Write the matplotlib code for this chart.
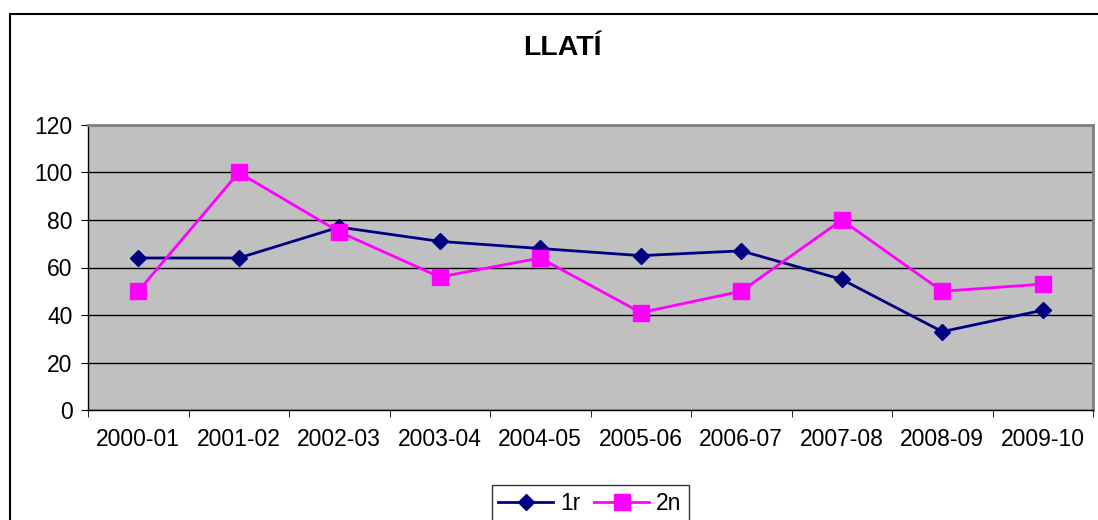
import matplotlib.pyplot as plt
from matplotlib.patches import Rectangle
import numpy as np

plt.rcParams['font.family'] = ['Liberation Sans', 'DejaVu Sans']

seasons = ['2000-01', '2001-02', '2002-03', '2003-04', '2004-05',
           '2005-06', '2006-07', '2007-08', '2008-09', '2009-10']
first = [64, 64, 77, 71, 68, 65, 67, 55, 33, 42]
second = [50, 100, 75, 56, 64, 41, 50, 80, 50, 53]

fig = plt.figure(figsize=(10.98, 5.20), dpi=100)
ax = fig.add_axes([88 / 1098, 1 - 410 / 520, 1005 / 1098, 285 / 520])
ax.set_facecolor('#C0C0C0')

x = np.arange(len(seasons))
ax.plot(x, first, color='#000080', lw=2, marker='D', ms=8, label='1r', zorder=3)
ax.plot(x, second, color='#FF00FF', lw=2, marker='s', ms=11, label='2n', zorder=4)

ax.set_ylim(0, 120)
ax.set_yticks(range(0, 121, 20))
ax.set_xlim(-0.5, len(seasons) - 0.5)
ax.set_xticks(x)
ax.set_xticklabels(seasons)
ax.set_xticks(np.arange(-0.5, len(seasons), 1), minor=True)
ax.tick_params(axis='x', which='major', length=0, pad=13, labelsize=16.5)
ax.tick_params(axis='x', which='minor', length=5, direction='out', color='black')
ax.tick_params(axis='y', length=5, direction='out', labelsize=16.5, pad=6)
ax.yaxis.grid(True, color='black', lw=1)
ax.set_axisbelow(True)

for side in ['top', 'right']:
    ax.spines[side].set_color('#808080')
    ax.spines[side].set_linewidth(2)
for side in ['left', 'bottom']:
    ax.spines[side].set_color('black')
    ax.spines[side].set_linewidth(1)

fig.text(562 / 1098, 1 - 48 / 520, 'LLATÍ', ha='center', va='center',
         fontsize=20.5, fontweight='bold')

leg = fig.legend(loc='upper center', bbox_to_anchor=(590 / 1098, 1 - 485 / 520),
                 borderaxespad=0, ncol=2, fontsize=16.5, frameon=True,
                 fancybox=False, handlelength=2.4, columnspacing=0.6,
                 handletextpad=0.3, borderpad=0.3)
leg.get_frame().set_edgecolor('black')
leg.get_frame().set_linewidth(1)

# outer chart frame (cropped at right and bottom)
fig.patches.append(Rectangle((10 / 1098, -0.1), 1.2, 1 - 14 / 520 + 0.1,
                             transform=fig.transFigure, fill=False,
                             edgecolor='black', lw=1.5))

fig.savefig('out.png', dpi=100)
